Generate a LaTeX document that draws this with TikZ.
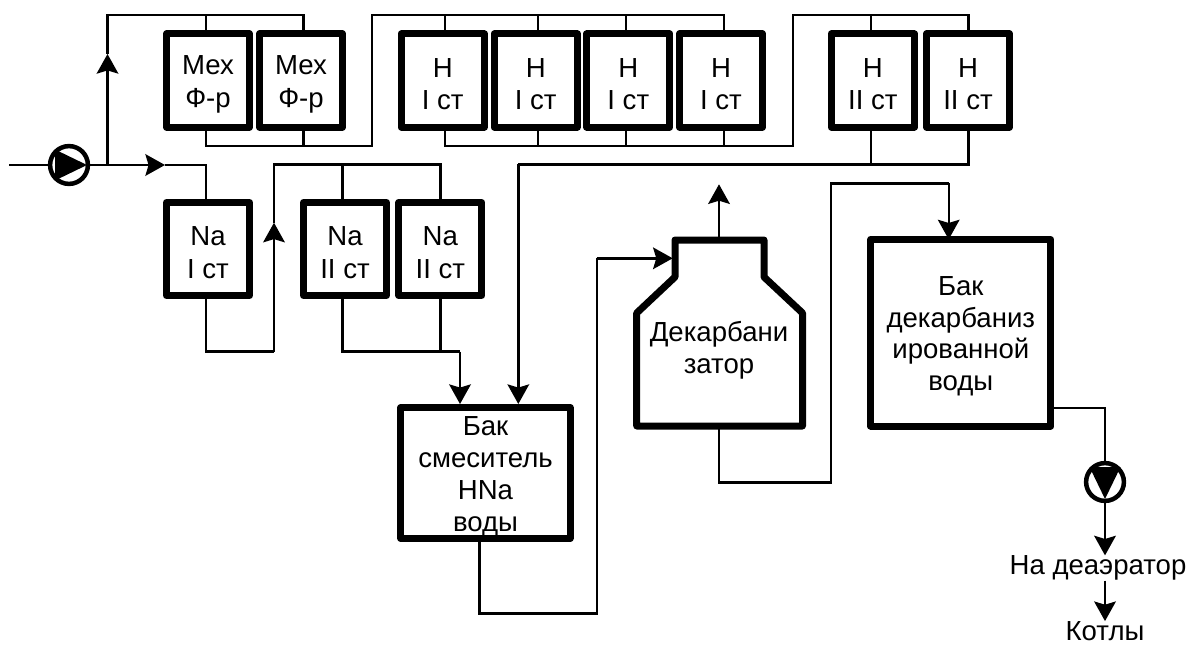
\documentclass[tikz,border=0pt]{standalone}
\usepackage{fontspec}
\setmainfont{Liberation Sans}
\usetikzlibrary{arrows.meta,calc}
\newcommand{\toprow}{\rule{0pt}{18.6pt}}

\begin{document}
\begin{tikzpicture}[
  x=0.025cm, y=-0.025cm,
  filter/.style={draw=black, line width=0.175cm, line join=round, outer sep=0pt, inner sep=0pt, minimum width=2.075cm, minimum height=2.325cm, align=center, font=\fontsize{19.6}{23.2}\selectfont},
  tank/.style={filter, minimum width=#1, font=\fontsize{19.6}{22.6}\selectfont},
  pump/.style={draw=black, line width=0.1125cm, circle, outer sep=0pt, inner sep=0pt, minimum size=0.945cm},
  label/.style={inner sep=0pt, align=center, font=\fontsize{19.6}{22.8}\selectfont},
  pipe/.style={line width=0.06cm, line join=miter},
  arrow/.style={pipe, -{Stealth[length=0.49cm, width=0.54cm, inset=0.08cm]}}
]
  \useasboundingbox (0,0) rectangle (1189,644);

  % upper row
  \node[filter] (mexa) at (208,80.5) {\toprow Мех\\Ф-р};
  \node[filter] (mexb) at (301,80.5) {\toprow Мех\\Ф-р};
  \node[filter] (hia) at (442.7,80.5) {\toprow H\\I ст};
  \node[filter] (hib) at (535.7,80.5) {\toprow H\\I ст};
  \node[filter] (hic) at (628.3,80.5) {\toprow H\\I ст};
  \node[filter] (hid) at (721,80.5) {\toprow H\\I ст};
  \node[filter] (hiia) at (872.8,80.5) {\toprow H\\II ст};
  \node[filter] (hiib) at (968,80.5) {\toprow H\\II ст};

  % lower row
  \node[filter] (naia) at (208,249) {\toprow Na\\I ст};
  \node[filter] (naiia) at (345,249) {\toprow Na\\II ст};
  \node[filter] (naiib) at (440.3,249) {\toprow Na\\II ст};

  % tanks
  \node[tank=4.225cm, minimum height=3.268cm] (mixer) at (485.5,473) {\toprow Бак\\смеситель\\HNa\\воды};
  \node[label, minimum width=4.15cm, minimum height=4.65cm] (decarb) at (719,333) {\rule{0pt}{38.3pt}Декарбани\\затор};
  \node[tank=4.5cm, minimum height=4.665cm] (store) at (960.8,332.7) {\toprow Бак\\декарбаниз\\ированной\\воды};
  \draw[line width=0.175cm, line join=round] (675,240) -- (764,240) -- (764,277) -- (802.5,313) -- (802.5,426) -- (636.7,426) -- (636.7,313) -- (675,277) -- cycle;

  % pumps and outlets
  \node[pump] (pumpa) at (69,165) {};
  \node[pump] (pumpb) at (1105,482) {};
  \fill ($(pumpa)+(-14,-15.5)$) -- ($(pumpa)+(18,0)$) -- ($(pumpa)+(-14,15.5)$) -- cycle;
  \fill ($(pumpb)+(-15.5,-15)$) -- ($(pumpb)+(0,17)$) -- ($(pumpb)+(15.5,-15)$) -- cycle;
  \node[label] (deaer) at (1098,568) {На деаэратор};
  \node[label] (boiler) at (1105,631) {Котлы};

  % pipe corners
  \coordinate (inlet) at (9,165);
  \coordinate (tee) at (107.5,165);
  \coordinate (teearrow) at (107.5,54);
  \coordinate (mainarrow) at (165,165);
  \coordinate (nafeed) at (205.7,165);
  \coordinate (mexin) at (107.5,15);
  \coordinate (mexain) at (205.7,15);
  \coordinate (mexbin) at (303.3,15);
  \coordinate (mexaout) at (205.7,146);
  \coordinate (mexbout) at (303.3,146);
  \coordinate (hifeed) at (371.7,146);
  \coordinate (hiin) at (371.7,15);
  \coordinate (hiain) at (445,15);
  \coordinate (hibin) at (537.7,15);
  \coordinate (hicin) at (626,15);
  \coordinate (hidin) at (724,15);
  \coordinate (hiaout) at (445,146);
  \coordinate (hibout) at (537.7,146);
  \coordinate (hicout) at (626,146);
  \coordinate (hidout) at (724,146);
  \coordinate (hiifeed) at (792.7,146);
  \coordinate (hiiin) at (792.7,15);
  \coordinate (hiiain) at (870.7,15);
  \coordinate (hiibin) at (968.3,15);
  \coordinate (hiiaout) at (870.7,164.3);
  \coordinate (hiibout) at (968.3,164.3);
  \coordinate (hiout) at (518.3,164.3);
  \coordinate (hitank) at (518.3,404);
  \coordinate (naout) at (205.7,351.5);
  \coordinate (narise) at (274,351.5);
  \coordinate (naarrow) at (274,222.7);
  \coordinate (natop) at (274,164.3);
  \coordinate (naiiain) at (342.3,164.3);
  \coordinate (naiibin) at (440.3,164.3);
  \coordinate (naiiaout) at (342.3,351.5);
  \coordinate (naiibout) at (440.3,351.5);
  \coordinate (naiidrop) at (460,351.5);
  \coordinate (naiitank) at (460,404);
  \coordinate (mixerout) at (479.3,613.3);
  \coordinate (mixerrise) at (596.7,613.3);
  \coordinate (decarbfeed) at (596.7,258.3);
  \coordinate (decarbin) at (672.7,258.3);
  \coordinate (vent) at (719,184.3);
  \coordinate (decarbout) at (719,482.3);
  \coordinate (storerise) at (831,482.3);
  \coordinate (storetop) at (831,183.3);
  \coordinate (storefeed) at (948.7,183.3);
  \coordinate (storeout) at (1105,407.7);

  % feed
  \draw[pipe] (inlet) -- (pumpa);
  \draw[arrow] (pumpa) -- (mainarrow);
  \draw[pipe] (mainarrow) -- (nafeed) -- (nafeed |- naia.north);
  \draw[arrow] (tee) -- (teearrow);
  \draw[pipe] (teearrow) -- (mexin) -- (mexbin) -- (mexbin |- mexb.north);
  \draw[pipe] (mexain) -- (mexain |- mexa.north);

  % mechanical filters to H I
  \draw[pipe] (mexaout |- mexa.south) -- (mexaout) -- (hifeed) -- (hiin) -- (hidin) -- (hidin |- hid.north);
  \draw[pipe] (mexbout |- mexb.south) -- (mexbout);
  \draw[pipe] (hiain) -- (hiain |- hia.north);
  \draw[pipe] (hibin) -- (hibin |- hib.north);
  \draw[pipe] (hicin) -- (hicin |- hic.north);

  % H I to H II
  \draw[pipe] (hiaout |- hia.south) -- (hiaout) -- (hiifeed) -- (hiiin) -- (hiibin) -- (hiibin |- hiib.north);
  \draw[pipe] (hibout |- hib.south) -- (hibout);
  \draw[pipe] (hicout |- hic.south) -- (hicout);
  \draw[pipe] (hidout |- hid.south) -- (hidout);
  \draw[pipe] (hiiain) -- (hiiain |- hiia.north);

  % H II to mixer
  \draw[pipe] (hiibout |- hiib.south) -- (hiibout) -- (hiout);
  \draw[arrow] (hiout) -- (hitank);
  \draw[pipe] (hiiaout |- hiia.south) -- (hiiaout);

  % Na filters to mixer
  \draw[pipe] (naout |- naia.south) -- (naout) -- (narise);
  \draw[arrow] (narise) -- (naarrow);
  \draw[pipe] (naarrow) -- (natop) -- (naiibin) -- (naiibin |- naiib.north);
  \draw[pipe] (naiiain) -- (naiiain |- naiia.north);
  \draw[pipe] (naiiaout |- naiia.south) -- (naiiaout) -- (naiidrop);
  \draw[arrow] (naiidrop) -- (naiitank);
  \draw[pipe] (naiibout |- naiib.south) -- (naiibout);

  % mixer to decarbonizer to store
  \draw[pipe] (mixerout |- mixer.south) -- (mixerout) -- (mixerrise) -- (decarbfeed);
  \draw[arrow] (decarbfeed) -- (decarbin);
  \draw[arrow] (decarb.north) -- (vent);
  \draw[pipe] (decarb.south) -- (decarbout) -- (storerise) -- (storetop) -- (storefeed);
  \draw[arrow] (storefeed) -- (storefeed |- store.north);
  \draw[pipe] (store.east |- storeout) -- (storeout) -- (pumpb);
  \draw[arrow] (pumpb) -- (pumpb |- deaer.north);
  \draw[arrow] (boiler |- deaer.south) -- (boiler);
\end{tikzpicture}
\end{document}
